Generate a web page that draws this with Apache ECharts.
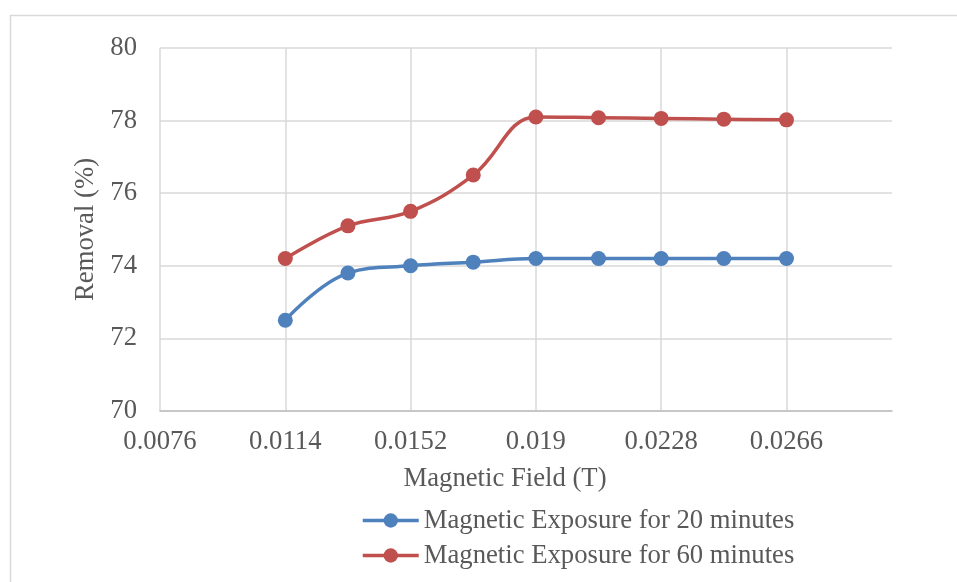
<!DOCTYPE html>
<html>
<head>
<meta charset="utf-8">
<script src="https://cdn.jsdelivr.net/npm/echarts@6/dist/echarts.min.js"></script>
<style>
  html, body { margin: 0; padding: 0; background: #fff; }
  #chart { width: 957px; height: 582px; }
</style>
</head>
<body>
<div id="chart"></div>
<script>
// Magnetic field strengths (T)
const fieldT = [0.0114, 0.0133, 0.0152, 0.0171, 0.019, 0.0209, 0.0228, 0.0247, 0.0266];
// Removal (%) after 20 and 60 minutes of exposure
const removal20 = [72.5, 73.8, 74.0, 74.1, 74.2, 74.2, 74.2, 74.2, 74.2];
const removal60 = [74.2, 75.1, 75.5, 76.5, 78.1, 78.08, 78.06, 78.04, 78.02];
const seriesNames = ['Magnetic Exposure for 20 minutes', 'Magnetic Exposure for 60 minutes'];

const FONT = "'Liberation Serif', 'Times New Roman', serif";
const TEXT = '#595959';
const GRID = '#d9d9d9';

const chart = echarts.init(document.getElementById('chart'));
const pairs = (ys) => fieldT.map((x, i) => [x, ys[i]]);

chart.setOption({
  animation: false,
  textStyle: { fontFamily: FONT },
  graphic: [{
    type: 'rect',
    shape: { x: 10.5, y: 15.5, width: 980, height: 620 },
    style: { fill: 'none', stroke: GRID, lineWidth: 1.5 },
    silent: true
  }],
  grid: { left: 160, top: 48, right: 65, bottom: 171, containLabel: false },
  xAxis: {
    type: 'value',
    min: 0.0076, max: 0.0298, interval: 0.0038,
    name: 'Magnetic Field (T)',
    nameLocation: 'middle', nameGap: 54,
    nameTextStyle: { fontFamily: FONT, fontSize: 26.7, color: TEXT, padding: [0, 42, 0, 0] },
    axisLine: { show: true, lineStyle: { color: '#bfbfbf', width: 1.5 } },
    axisTick: { show: false },
    axisLabel: { showMaxLabel: false, fontFamily: FONT, fontSize: 26.7, color: TEXT, margin: 17 },
    splitLine: { show: true, showMinLine: true, showMaxLine: false, lineStyle: { color: GRID, width: 1.5 } }
  },
  yAxis: {
    type: 'value',
    min: 70, max: 80, interval: 2,
    name: 'Removal (%)',
    nameLocation: 'middle', nameGap: 52, nameRotate: 90,
    nameTextStyle: { fontFamily: FONT, fontSize: 26.7, color: TEXT },
    axisLine: { show: false },
    axisTick: { show: false },
    axisLabel: { fontFamily: FONT, fontSize: 26.7, color: TEXT, margin: 23 },
    splitLine: { show: true, lineStyle: { color: GRID, width: 1.5 } }
  },
  legend: {
    orient: 'vertical',
    left: 356, top: 502,
    itemWidth: 56, itemHeight: 18, itemGap: 8,
    lineStyle: { width: 3.5 },
    textStyle: { fontFamily: FONT, fontSize: 26.7, color: TEXT },
    data: seriesNames
  },
  series: [
    {
      name: seriesNames[0], type: 'line', smooth: 0.4,
      data: pairs(removal20),
      symbol: 'circle', symbolSize: 15,
      lineStyle: { color: '#4F81BD', width: 3.5 },
      itemStyle: { color: '#4F81BD' }
    },
    {
      name: seriesNames[1], type: 'line', smooth: 0.4,
      data: pairs(removal60),
      symbol: 'circle', symbolSize: 15,
      lineStyle: { color: '#C0504D', width: 3.5 },
      itemStyle: { color: '#C0504D' }
    }
  ]
});
</script>
</body>
</html>
